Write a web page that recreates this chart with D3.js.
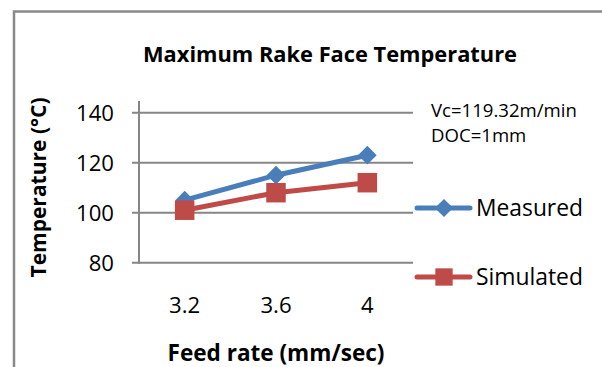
<!DOCTYPE html>
<html>
<head>
<script src="https://d3js.org/d3.v7.min.js"></script>
<style>
  body { margin: 0; background: #fff; }
  svg text { font-family: 'Open Sans', sans-serif; fill: #000; }
</style>
</head>
<body>
<div id="chart"></div>
<script>
  // data
  var feedRates = ["3.2", "3.6", "4"];
  var measured = [105, 115, 123];
  var simulated = [101, 108, 112];
  var yTicks = [80, 100, 120, 140];
  var notes = ["Vc=119.32m/min", "DOC=1mm"];

  var svg = d3.select("#chart").append("svg")
      .attr("width", 602)
      .attr("height", 367);

  // size a text so it is as wide as in the picture, returns the size
  function fitSize(node, width) {
    var fs = parseFloat(d3.select(node).style("font-size"));
    return fs * width / node.getComputedTextLength();
  }
  function fit(sel, width) {
    sel.each(function() {
      d3.select(this).style("font-size", fitSize(this, width).toFixed(2) + "px");
    });
    return sel;
  }

  // frame (runs past the right and bottom edges)
  svg.append("rect")
      .attr("x", 14).attr("y", 11.5)
      .attr("width", 620).attr("height", 380)
      .attr("fill", "none")
      .attr("stroke", "#898989")
      .attr("stroke-width", 2.5);

  var x = d3.scaleBand().domain(feedRates).range([139, 413]);
  var y = d3.scaleLinear().domain([80, 140]).range([262.7, 112.7]);

  // gridlines
  svg.selectAll(".grid").data(yTicks).enter().append("line")
      .attr("x1", 132).attr("x2", 413)
      .attr("y1", function(d) { return y(d); })
      .attr("y2", function(d) { return y(d); })
      .attr("stroke", "#868686")
      .attr("stroke-width", 2);

  // y axis line
  svg.append("line")
      .attr("x1", 139).attr("x2", 139)
      .attr("y1", 101).attr("y2", 263.7)
      .attr("stroke", "#868686")
      .attr("stroke-width", 2);

  // y tick labels
  var ylab = svg.selectAll(".ylab").data(yTicks).enter().append("text")
      .attr("x", 114)
      .attr("y", function(d) { return y(d); })
      .attr("dy", "0.36em")
      .attr("text-anchor", "end")
      .style("font-size", "20px")
      .text(function(d) { return d; });
  var tickSize = fitSize(ylab.nodes()[3], 38).toFixed(2) + "px";
  ylab.style("font-size", tickSize);

  // x tick labels
  svg.selectAll(".xlab").data(feedRates).enter().append("text")
      .attr("x", function(d) { return x(d) + x.bandwidth() / 2; })
      .attr("y", 313)
      .attr("text-anchor", "middle")
      .style("font-size", tickSize)
      .text(function(d) { return d; });

  var line = d3.line()
      .x(function(d, i) { return x(feedRates[i]) + x.bandwidth() / 2; })
      .y(function(d) { return y(d); });

  var blue = "#4a7ebb", red = "#be4b48";

  svg.append("path").attr("d", line(measured))
      .attr("fill", "none").attr("stroke", blue).attr("stroke-width", 5);
  svg.append("path").attr("d", line(simulated))
      .attr("fill", "none").attr("stroke", red).attr("stroke-width", 5);

  svg.selectAll(".diamond").data(measured).enter().append("path")
      .attr("d", d3.symbol().type(d3.symbolSquare).size(175)())
      .attr("transform", function(d, i) {
        return "translate(" + (x(feedRates[i]) + x.bandwidth() / 2) + "," + y(d) + ") rotate(45)";
      })
      .attr("fill", blue);

  svg.selectAll(".square").data(simulated).enter().append("path")
      .attr("d", d3.symbol().type(d3.symbolSquare).size(380)())
      .attr("transform", function(d, i) {
        return "translate(" + (x(feedRates[i]) + x.bandwidth() / 2) + "," + y(d) + ")";
      })
      .attr("fill", red);

  // title
  fit(svg.append("text")
      .attr("x", 330).attr("y", 62)
      .attr("text-anchor", "middle")
      .style("font-size", "20px").style("font-weight", "bold")
      .text("Maximum Rake Face Temperature"), 374);

  // axis titles
  fit(svg.append("text")
      .attr("transform", "translate(46,187.5) rotate(-90)")
      .attr("text-anchor", "middle")
      .style("font-size", "20px").style("font-weight", "bold")
      .text("Temperature (\u00B0C)"), 180);

  fit(svg.append("text")
      .attr("x", 276).attr("y", 361)
      .attr("text-anchor", "middle")
      .style("font-size", "20px").style("font-weight", "bold")
      .text("Feed rate (mm/sec)"), 217);

  // annotation, two lines
  var note = svg.selectAll(".note").data(notes).enter().append("text")
      .attr("x", 431)
      .attr("y", function(d, i) { return 117 + i * 25; })
      .style("font-size", "16px")
      .text(function(d) { return d; });
  note.style("font-size", fitSize(note.nodes()[0], 146).toFixed(2) + "px");

  // legend
  var legend = [
    { name: "Measured", color: blue, y: 208, shape: "diamond" },
    { name: "Simulated", color: red, y: 277, shape: "square" }
  ];
  var lg = svg.selectAll(".leg").data(legend).enter().append("g");
  lg.append("line")
      .attr("x1", 417).attr("x2", 470)
      .attr("y1", function(d) { return d.y; })
      .attr("y2", function(d) { return d.y; })
      .attr("stroke", function(d) { return d.color; })
      .attr("stroke-width", 5)
      .attr("stroke-linecap", "round");
  lg.append("path")
      .attr("d", function(d) {
        return d3.symbol().type(d3.symbolSquare).size(d.shape === "diamond" ? 165 : 300)();
      })
      .attr("transform", function(d) {
        return "translate(444," + d.y + ")" + (d.shape === "diamond" ? " rotate(45)" : "");
      })
      .attr("fill", function(d) { return d.color; });
  fit(lg.append("text")
      .attr("x", 476)
      .attr("y", function(d) { return d.y; })
      .attr("dy", "0.36em")
      .style("font-size", "20px")
      .text(function(d) { return d.name; }), 107);
</script>
</body>
</html>
